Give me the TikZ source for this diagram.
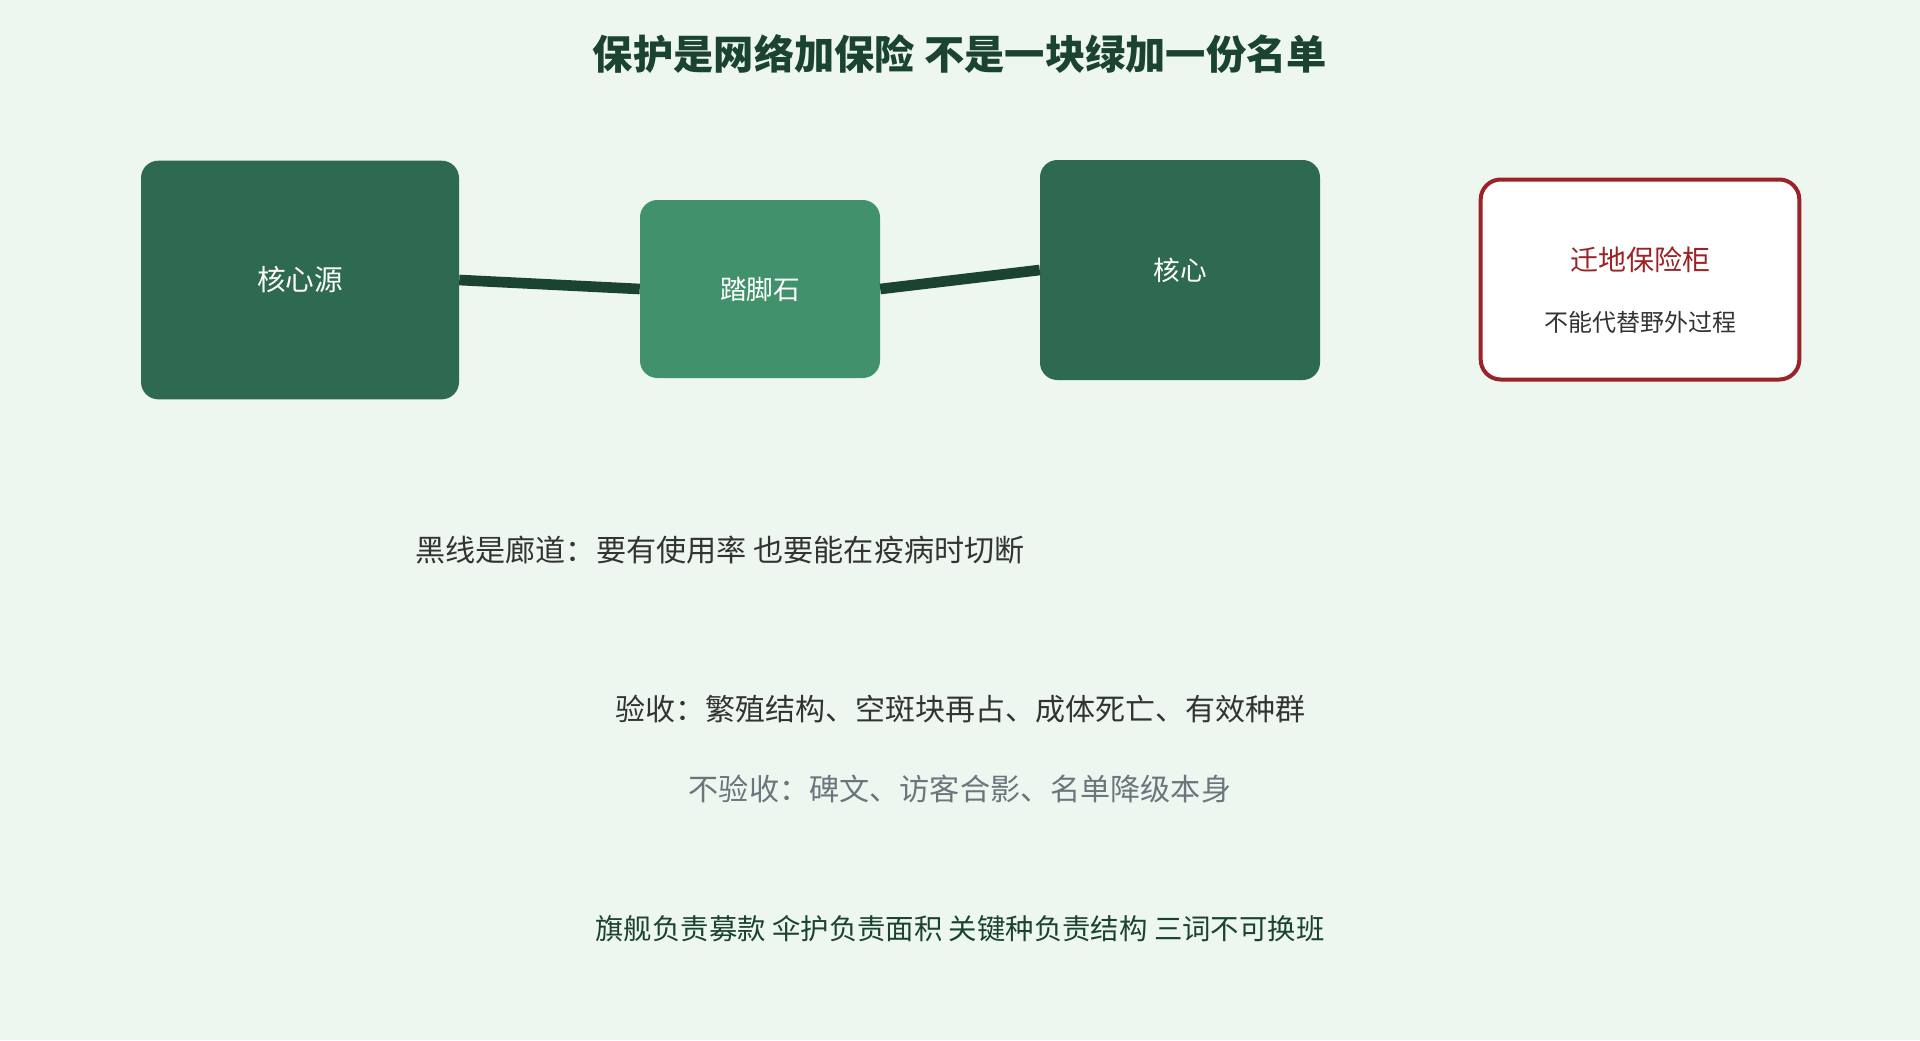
\documentclass[tikz,border=0pt]{standalone}
\usepackage{fontspec}
\setmainfont{Noto Sans CJK SC}
\newfontfamily\cjk{Noto Sans CJK SC}
\definecolor{bgc}{HTML}{EEF7EF}
\definecolor{darkg}{HTML}{2D6A4F}
\definecolor{midg}{HTML}{40916C}
\definecolor{lineg}{HTML}{1B4332}
\definecolor{redc}{HTML}{9B2226}
\definecolor{txt}{HTML}{333333}
\definecolor{grayt}{HTML}{6C757D}
\tikzset{
  px/.style={x=0.75pt,y=-0.75pt},
  gbox/.style={rounded corners=13pt, inner sep=0pt, text=white, font=\cjk\fontsize{20}{24}\selectfont},
  corridor/.style={draw=lineg, line width=8pt},
  plain/.style={inner sep=0pt, font=\cjk\fontsize{21}{26}\selectfont, text=txt}
}
\begin{document}
\begin{tikzpicture}[px]
\useasboundingbox[fill=bgc] (0,0) rectangle (1920,1040);
\node[inner sep=0pt, text=lineg, font=\cjk\bfseries\fontsize{30.2}{36}\selectfont] (title) at (960,54) {保护是网络加保险 不是一块绿加一份名单};
\node[gbox, fill=darkg, minimum width=238.5pt, minimum height=179pt, font=\cjk\fontsize{21.5}{26}\selectfont] (src) at (300,280) {核心源};
\node[gbox, fill=midg, minimum width=180pt, minimum height=133.5pt] (step) at (760,289) {踏脚石};
\node[gbox, fill=darkg, minimum width=210pt, minimum height=165pt] (core) at (1180,270) {核心};
\node[draw=redc, line width=3pt, fill=white, rounded corners=15pt, minimum width=239pt, minimum height=150pt] (vault) at (1640,279.5) {};
\node[plain, text=redc] (vaultt) at (1640,260) {迁地保险柜};
\node[plain, font=\cjk\fontsize{18}{22}\selectfont] (vaults) at (1640,322) {不能代替野外过程};
\draw[corridor] (src.east) -- (step.west);
\draw[corridor] (step.east) -- (core.west);
\node[plain, font=\cjk\fontsize{22.6}{27}\selectfont] (note) at (720,550) {黑线是廊道：要有使用率 也要能在疫病时切断};
\node[plain, font=\cjk\fontsize{22.5}{27}\selectfont] (yes) at (960,709) {验收：繁殖结构、空斑块再占、成体死亡、有效种群};
\node[plain, font=\cjk\fontsize{22.6}{27}\selectfont, text=grayt] (no) at (960,789) {不验收：碑文、访客合影、名单降级本身};
\node[plain, font=\cjk\fontsize{21.3}{26}\selectfont, text=lineg] (words) at (960,929) {旗舰负责募款 伞护负责面积 关键种负责结构 三词不可换班};
\end{tikzpicture}
\end{document}
